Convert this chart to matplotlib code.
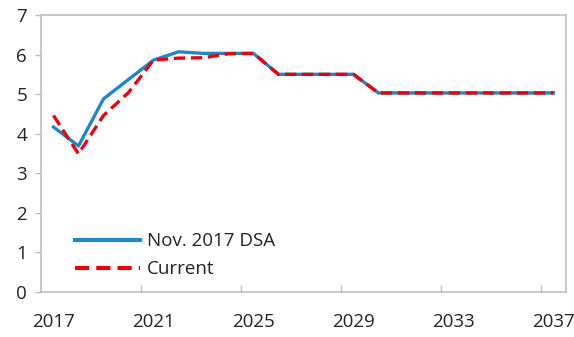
import matplotlib
matplotlib.use("Agg")
import matplotlib.pyplot as plt
from matplotlib.ticker import FixedLocator

years = list(range(2017, 2038))
nov_2017_dsa = [4.17, 3.69, 4.88, 5.37, 5.86, 6.07, 6.03, 6.03, 6.03, 5.50, 5.50, 5.50, 5.50,
                5.03, 5.03, 5.03, 5.03, 5.03, 5.03, 5.03, 5.03]
current = [4.46, 3.49, 4.46, 5.04, 5.86, 5.91, 5.92, 6.02, 6.03, 5.50, 5.50, 5.50, 5.50,
           5.03, 5.03, 5.03, 5.03, 5.03, 5.03, 5.03, 5.03]
label_years = [2017, 2021, 2025, 2029, 2033, 2037]

plt.rcParams["font.family"] = ["Open Sans", "DejaVu Sans"]
FS = 13.5

fig = plt.figure(figsize=(5.74, 3.37), dpi=100)
ax = fig.add_axes([0.0714, 0.1335, 0.9146, 0.822])

ax.plot(years, nov_2017_dsa, color="#1f87c6", lw=2.4, label="Nov. 2017 DSA")
ax.plot(years, current, color="#e8000b", lw=2.4, ls=(0, (3.4, 1.7)), label="Current")

ax.set_xlim(2016.5, 2037.5)
ax.set_ylim(0, 7)
ax.set_yticks(range(0, 8))

# category-style axis: labels centred on years, tick marks on the boundaries
ax.set_xticks(label_years)
ax.set_xticklabels([str(y) for y in label_years])
ax.xaxis.set_minor_locator(FixedLocator([2020.5, 2024.5, 2028.5, 2032.5, 2036.5]))
ax.tick_params(axis="x", which="major", length=0, pad=15, labelsize=FS, colors="#222222")
ax.tick_params(axis="x", which="minor", direction="in", length=5, width=1, color="#bfbfbf")
ax.tick_params(axis="y", direction="out", length=4, width=1, color="#bfbfbf",
               labelsize=FS, labelcolor="#222222", pad=6)

for side in ax.spines.values():
    side.set_color("#bfbfbf")
    side.set_linewidth(1.2)

leg = ax.legend(loc="lower left", bbox_to_anchor=(0.032, -0.012), frameon=False,
                fontsize=FS, handlelength=3.5, handletextpad=0.37, labelspacing=0.55)
for t in leg.get_texts():
    t.set_color("#222222")
for h in leg.get_lines():
    h.set_linewidth(3.0)

fig.savefig("out.png", dpi=100)
